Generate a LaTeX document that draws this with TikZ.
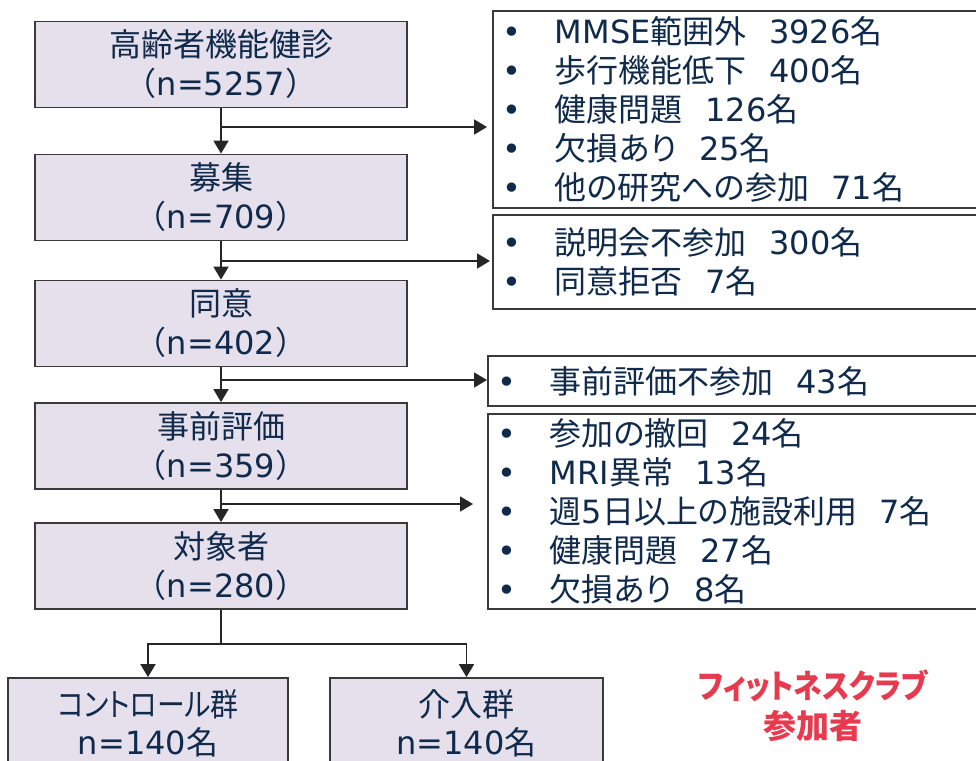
\documentclass[tikz,border=0pt]{standalone}
\usepackage{fontspec}
\setmainfont{Noto Sans CJK JP}
\newfontfamily\jpp{Noto Sans CJK JP}[RawFeature=+palt]
\newfontfamily\latf{DejaVu Sans}
\newcommand\lf[1]{{\latf #1}}
\newcommand\bul{\makebox[52pt][l]{\lf{•}}}
\newcommand\gap{\hspace{0.7em}}
\usetikzlibrary{arrows.meta}
\definecolor{txt}{RGB}{16,42,76}
\definecolor{boxfill}{RGB}{230,224,236}
\definecolor{boxline}{RGB}{58,58,58}
\definecolor{arrcol}{RGB}{38,38,38}
\definecolor{redtxt}{RGB}{232,58,78}
\tikzset{
  base/.style={font=\fontsize{32}{39}\selectfont, text=txt},
  lbox/.style={base, draw=boxline, fill=boxfill, line width=1.8pt, align=center,
    minimum width=372pt, minimum height=86pt, inner sep=0pt},
  rbox/.style={font=\fontsize{32}{39}\jpp, text=txt, draw=boxline, fill=white, line width=1.8pt, align=left,
    anchor=north west, inner xsep=10pt, inner ysep=0pt},
  arr/.style={draw=arrcol, line width=1.8pt, -{Triangle[width=15pt,length=13pt]}},
  ln/.style={draw=arrcol, line width=1.8pt},
}
\begin{document}
\begin{tikzpicture}[x=1pt,y=-1pt]
\useasboundingbox (0,0) rectangle (976,760);
% left column
\node[lbox] (b1) at (221,64.5) {高齢者機能健診\\（\lf{n=5257}）};
\node[lbox] (b2) at (221,197.5) {募集\\（\lf{n=709}）};
\node[lbox] (b3) at (221,323.5) {同意\\（\lf{n=402}）};
\node[lbox] (b4) at (221,446) {事前評価\\（\lf{n=359}）};
\node[lbox] (b5) at (221,566) {対象者\\（\lf{n=280}）};
% bottom groups
\node[lbox, minimum width=280pt, minimum height=90pt, font=\fontsize{32}{38}\jpp] (g1) at (148,723) {\scalebox{0.87}[1]{コントロール群}\\\lf{n=140}名};
\node[lbox, minimum width=273pt, minimum height=90pt, font=\fontsize{32}{38}\jpp] (g2) at (466.5,723) {介入群\\\lf{n=140}名};
% right boxes
\node[rbox, minimum width=493pt, minimum height=197pt, text width=473pt] (rA) at (492,10)
  {\bul\lf{MMSE}範囲外\gap\lf{3926}名\\
   \bul 歩行機能低下\gap\lf{400}名\\
   \bul 健康問題\gap\lf{126}名\\
   \bul 欠損あり\gap\lf{25}名\\
   \bul 他の研究への参加\gap\lf{71}名};
\node[rbox, minimum width=493pt, minimum height=94pt, text width=473pt] (rB) at (492,214)
  {\bul 説明会不参加\gap\lf{300}名\\
   \bul 同意拒否\gap\lf{7}名};
\node[rbox, minimum width=498pt, minimum height=50pt, text width=478pt] (rC) at (487,355)
  {\bul 事前評価不参加\gap\lf{43}名};
\node[rbox, minimum width=498pt, minimum height=195pt, text width=478pt] (rD) at (487,413)
  {\bul 参加の撤回\gap\lf{24}名\\
   \bul\lf{MRI}異常\gap\lf{13}名\\
   \bul 週\lf{5}日以上の施設利用\gap\lf{7}名\\
   \bul 健康問題\gap\lf{27}名\\
   \bul 欠損あり\gap\lf{8}名};
% red label
\node[font=\fontsize{33}{40}\jpp\bfseries, text=redtxt, align=center] (fc) at (813,706)
  {\scalebox{0.87}[1]{フィットネスクラブ}\\参加者};
% junction coordinates
\coordinate (j1) at (221,127);
\coordinate (j2) at (221,261);
\coordinate (j3) at (221,380);
\coordinate (j4) at (221,504);
\coordinate (sp) at (221,644);
% vertical arrows
\draw[arr] (b1) -- (b2);
\draw[arr] (b2) -- (b3);
\draw[arr] (b3) -- (b4);
\draw[arr] (b4) -- (b5);
% side arrows
\draw[arr] (j1) -- ([xshift=-5pt]rA.west |- j1);
\draw[arr] (j2) -- ([xshift=-2pt]rB.west |- j2);
\draw[arr] (j3) -- (rC.west |- j3);
\draw[arr] (j4) -- ([xshift=-14pt]rD.west |- j4);
% split
\draw[ln] (b5) -- (sp);
\draw[arr] (sp) -| (g1.north);
\draw[arr] (sp) -| (g2.north);
\end{tikzpicture}
\end{document}
